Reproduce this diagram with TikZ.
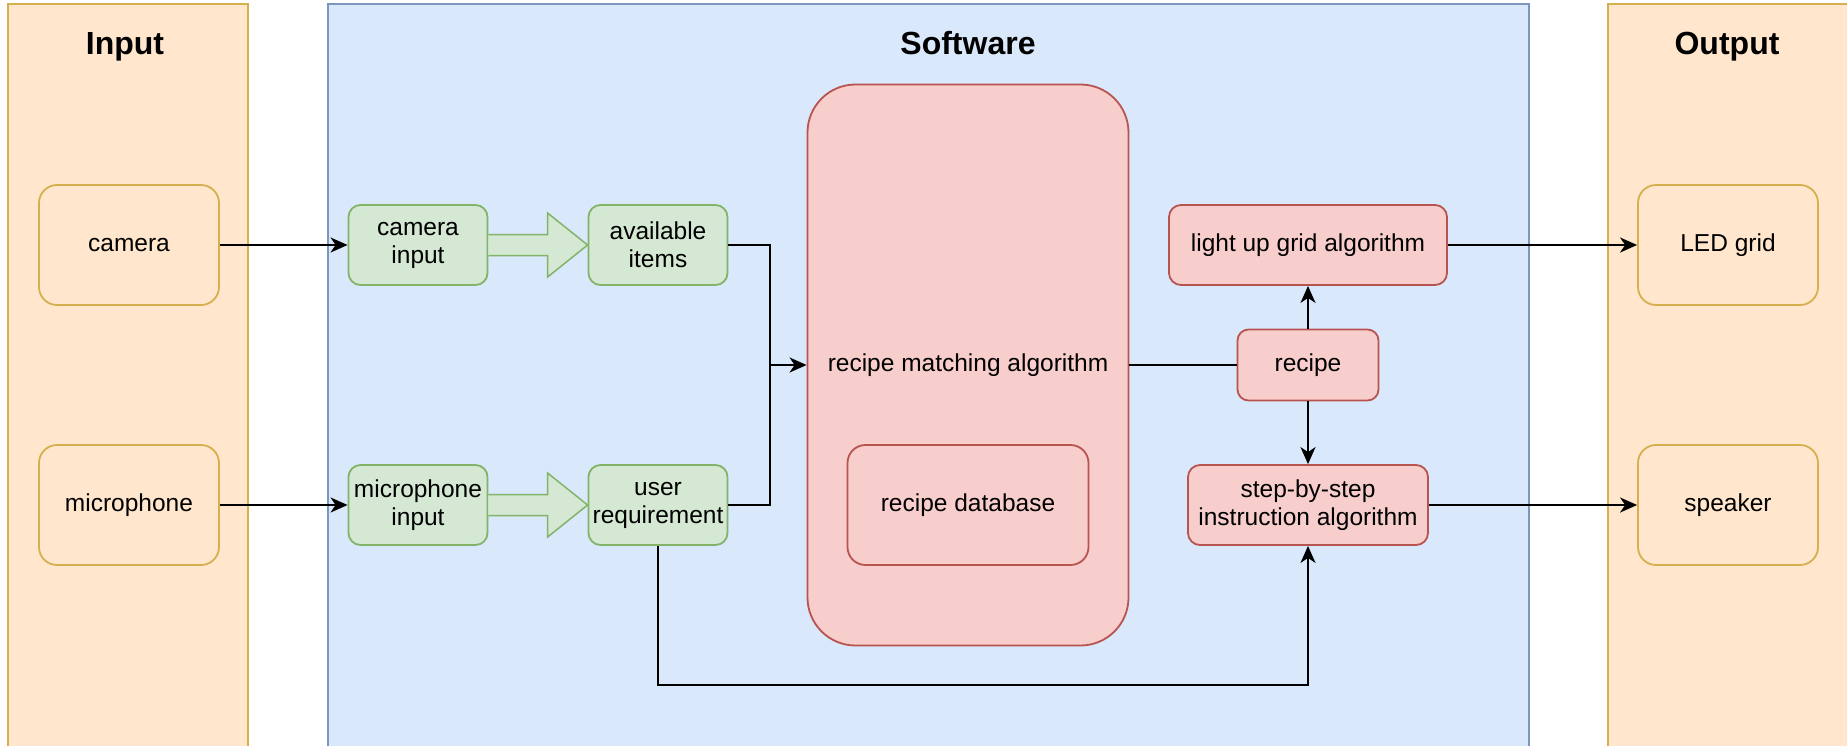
\documentclass[tikz,border=0pt]{standalone}
\usepackage{fontspec}
\setmainfont{Liberation Sans}
\usetikzlibrary{arrows.meta,calc}
\definecolor{orfill}{HTML}{FFE6CC}
\definecolor{ordraw}{HTML}{D6B04E}
\definecolor{blfill}{HTML}{DAE8FC}
\definecolor{bldraw}{HTML}{7C96BE}
\definecolor{grfill}{HTML}{D5E8D4}
\definecolor{grdraw}{HTML}{82B366}
\definecolor{rdfill}{HTML}{F8CECC}
\definecolor{rddraw}{HTML}{B85450}
\begin{document}
\begin{tikzpicture}[x=1pt,y=-1pt,
  every node/.style={font=\fontsize{24.5}{28}\selectfont, inner sep=0pt, align=center},
  panel/.style={rectangle, draw=#1, line width=1.8pt, minimum height=796pt},
  ptitle/.style={font=\fontsize{32}{36}\selectfont\bfseries, anchor=base},
  rbox/.style={rectangle, line width=1.8pt, rounded corners=#1},
  rbox/.default=12pt,
  iobox/.style={rbox=18pt, fill=orfill, draw=ordraw, minimum width=180pt, minimum height=120pt},
  grbox/.style={rbox=12pt, fill=grfill, draw=grdraw, minimum width=139pt, minimum height=80pt},
  rdbox/.style={rbox=#1, fill=rdfill, draw=rddraw},
  rdbox/.default=12pt,
  line/.style={line width=2pt, draw=black},
  conn/.style={line, -{Stealth[length=17pt,width=15pt,inset=5pt]}},
  bigarrow/.style={fill=grfill, draw=grdraw, line width=1.5pt, line join=miter}
]
\useasboundingbox (0,0) rectangle (1847,745);
\clip (0,0) rectangle (1847,745);
\fill[white] (0,0) rectangle (1847,745);

% panels
\node[panel=ordraw, fill=orfill, minimum width=240pt] (inpanel) at (128,402) {};
\node[panel=bldraw, fill=blfill, minimum width=1201pt] (swpanel) at (928.5,402) {};
\node[panel=ordraw, fill=orfill, minimum width=292pt] (outpanel) at (1754,402) {};
\node[ptitle] (tin) at (125,54) {Input};
\node[ptitle] (tsw) at (968,54) {Software};
\node[ptitle] (tout) at (1727,54) {Output};

% input / output devices
\node[iobox] (camera) at (129,245) {camera};
\node[iobox] (mic) at (129,505) {microphone};
\node[iobox] (led) at (1728,245) {LED grid};
\node[iobox] (speaker) at (1728,505) {speaker};

% green boxes
\node[grbox] (camin) at (418,245) {camera\\input};
\node[grbox] (avail) at (658,245) {available\\items};
\node[grbox] (micin) at (418,505) {microphone\\input};
\node[grbox] (userreq) at (658,505) {user\\requirement};

% red boxes
\node[rdbox=48pt, minimum width=321pt, minimum height=561pt] (rm) at (968,365) {recipe matching algorithm};
\node[rdbox=18pt, minimum width=241pt, minimum height=120pt] (rdb) at (968,505) {recipe database};
\node[rdbox=12pt, minimum width=278pt, minimum height=80pt] (light) at (1308,245) {light up grid algorithm};
\node[rdbox=11pt, minimum width=141pt, minimum height=71pt] (recipe) at (1308,365) {recipe};
\node[rdbox=12pt, minimum width=240pt, minimum height=80pt] (step) at (1308,505) {step-by-step\\instruction algorithm};

% big green arrows
\draw[bigarrow] ($(camin.east)+(0,-10.5)$) -- ($(avail.west)+(-40,-10.5)$) -- ($(avail.west)+(-40,-32)$)
  -- (avail.west) -- ($(avail.west)+(-40,32)$) -- ($(avail.west)+(-40,10.5)$) -- ($(camin.east)+(0,10.5)$);
\draw[bigarrow] ($(micin.east)+(0,-10.5)$) -- ($(userreq.west)+(-40,-10.5)$) -- ($(userreq.west)+(-40,-32)$)
  -- (userreq.west) -- ($(userreq.west)+(-40,32)$) -- ($(userreq.west)+(-40,10.5)$) -- ($(micin.east)+(0,10.5)$);

% connectors
\coordinate (j) at (770,365);
\draw[conn] (camera.east) -- (camin.west);
\draw[conn] (mic.east) -- (micin.west);
\draw[line] (avail.east) -| (j);
\draw[conn] (userreq.east) -| (j) -- (rm.west);
\draw[line] (rm.east) -- (recipe.west);
\draw[conn] (recipe.north) -- (light.south);
\draw[conn] (recipe.south) -- (step.north);
\draw[conn] (userreq.south) -- ++(0,139) -| (step.south);
\draw[conn] (light.east) -- (led.west);
\draw[conn] (step.east) -- (speaker.west);
\end{tikzpicture}
\end{document}
